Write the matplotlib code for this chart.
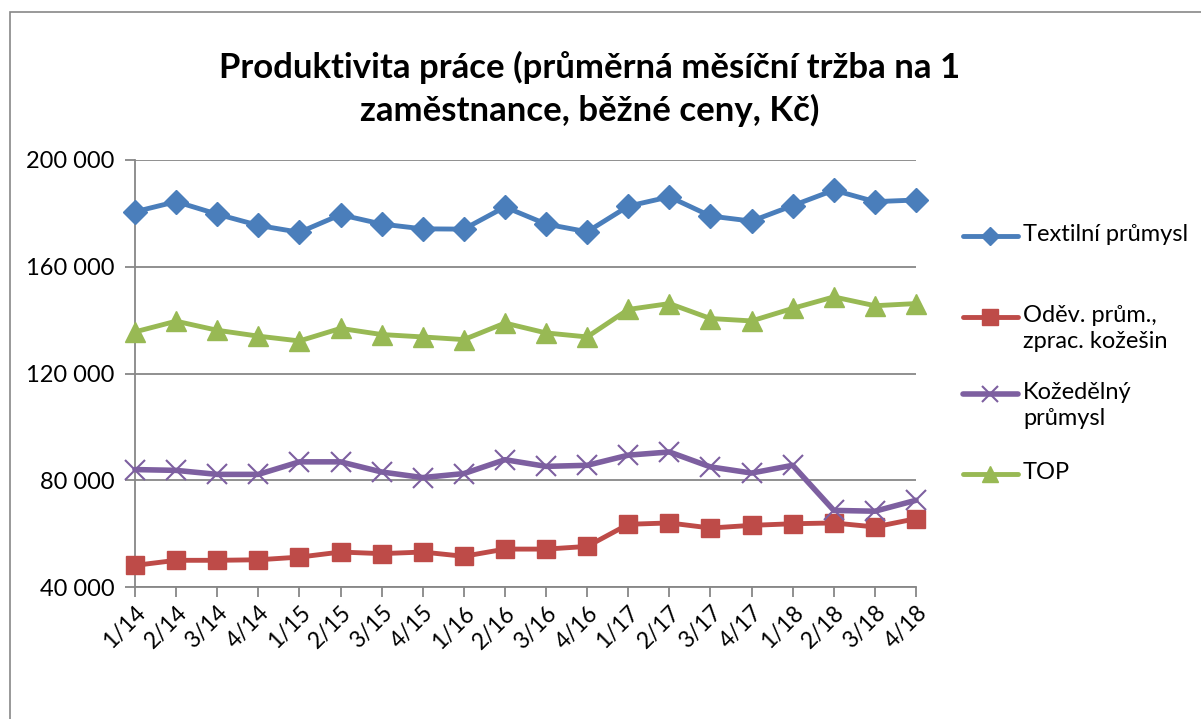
import matplotlib
matplotlib.use("Agg")
import matplotlib.pyplot as plt
from matplotlib.lines import Line2D
from matplotlib.patches import Rectangle
from matplotlib.ticker import FuncFormatter

plt.rcParams["font.family"] = ["Lato", "DejaVu Sans"]

quarters = ["1/14", "2/14", "3/14", "4/14", "1/15", "2/15", "3/15", "4/15",
            "1/16", "2/16", "3/16", "4/16", "1/17", "2/17", "3/17", "4/17",
            "1/18", "2/18", "3/18", "4/18"]

textil = [180600, 184400, 179700, 175500, 172900, 179500, 176000, 174200,
          174100, 182400, 176000, 173100, 182700, 186200, 179000, 177100,
          182900, 188700, 184400, 185000]
odev = [48100, 50000, 50000, 50200, 51200, 53100, 52500, 53100,
        51500, 54200, 54200, 55200, 63500, 64000, 62100, 63100,
        63700, 64000, 62500, 65600]
kozedel = [84000, 83700, 82200, 82200, 86900, 86900, 83100, 81000,
           82500, 87700, 85200, 85600, 89400, 90600, 85000, 82700,
           85600, 68700, 68400, 72500]
top = [135600, 139600, 136200, 134000, 132200, 136900, 134600, 133700,
       132700, 138900, 135200, 133700, 144000, 146200, 140600, 139700,
       144400, 148700, 145400, 146200]

# label, values, colour, marker, marker size in plot, marker size in legend
series = [
    ("Textilní průmysl", textil, "#4A7EBB", "D", 12, 9),
    ("Oděv. prům.,\nzprac. kožešin", odev, "#BE4B48", "s", 13, 12),
    ("Kožedělný\nprůmysl", kozedel, "#7D5FA0", "x", 14, 11),
    ("TOP", top, "#98B954", "^", 14, 12),
]

W, H = 1201, 719
fig = plt.figure(figsize=(W / 100, H / 100), dpi=100)
ax = fig.add_axes([135 / W, 1 - 587 / H, (916 - 135) / W, (587 - 160) / H])

x = list(range(len(quarters)))
for label, vals, color, marker, ms, _ in series:
    if marker == "x":
        ax.plot(x, vals, color=color, lw=4, marker=marker, ms=ms, mew=1.5,
                solid_capstyle="round", zorder=3, clip_on=False)
    else:
        ax.plot(x, vals, color=color, lw=3.5, marker=marker, ms=ms,
                mec=color, solid_capstyle="round", zorder=3, clip_on=False)

grid_color = "#878787"
ax.set_xlim(0, len(quarters) - 1)
ax.set_ylim(40000, 200000)
ax.set_yticks(range(40000, 200001, 40000))
ax.yaxis.set_major_formatter(FuncFormatter(lambda v, p: f"{int(v):,}".replace(",", " ")))
ax.set_xticks(x)
ax.set_xticklabels(quarters, rotation=45, ha="right", va="top",
                   rotation_mode="anchor")
ax.grid(axis="y", color=grid_color, lw=1.3)
ax.set_axisbelow(True)
for s in ("top", "right"):
    ax.spines[s].set_visible(False)
for s in ("left", "bottom"):
    ax.spines[s].set_color(grid_color)
    ax.spines[s].set_linewidth(1.3)
ax.tick_params(axis="both", direction="out", length=7, width=1.3,
               color=grid_color, labelcolor="black")
ax.tick_params(axis="y", pad=8, labelsize=17)
ax.tick_params(axis="x", pad=4, labelsize=16.5)

fig.text(590 / W, 1 - 89 / H,
         "Produktivita práce (průměrná měsíční tržba na 1\nzaměstnance, běžné ceny, Kč)",
         ha="center", va="center", fontsize=25, fontweight="bold",
         linespacing=1.35)

# legend drawn at the right side
legend_y = [236, 317, 394, 474]
for (label, vals, color, marker, _, lms), ly in zip(series, legend_y):
    yf = 1 - ly / H
    fig.add_artist(Line2D([963 / W, 1018 / W], [yf, yf], color=color,
                          lw=3.5 if marker != "x" else 4,
                          solid_capstyle="round", transform=fig.transFigure))
    fig.add_artist(Line2D([990 / W], [yf], color=color, marker=marker,
                          ms=lms, mew=1.5 if marker == "x" else 1, mec=color,
                          transform=fig.transFigure))
    fig.text(1023 / W, yf + 12 / H, label, ha="left", va="top",
             fontsize=17, linespacing=1.3)

fig.add_artist(Rectangle((10 / W, -0.1), 1.2, 1.1 - 12 / H, fill=False,
                         ec=grid_color, lw=1.2, transform=fig.transFigure))

fig.savefig("out.png", dpi=100, facecolor="white")
